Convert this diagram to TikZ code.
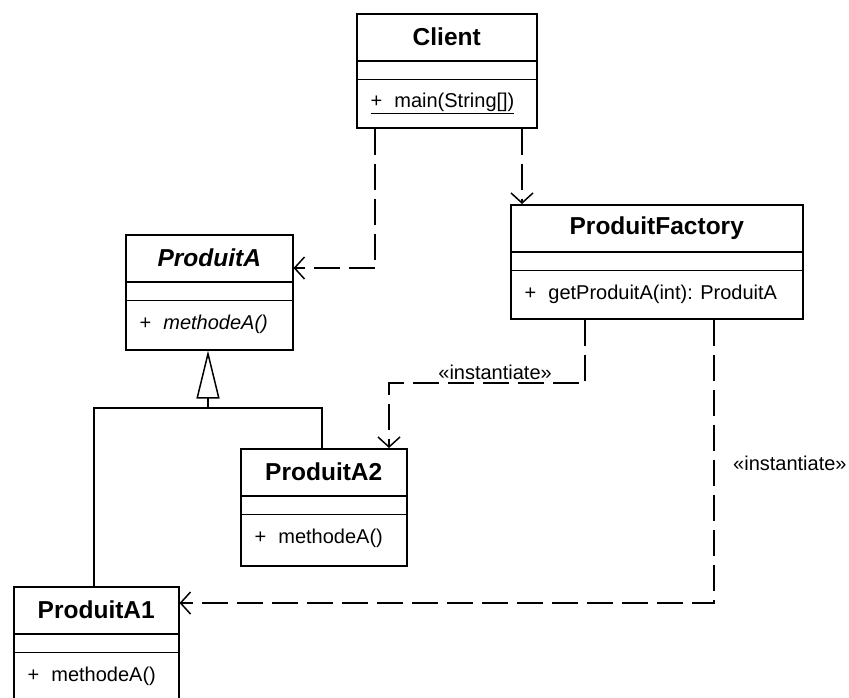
\documentclass[tikz,border=0pt]{standalone}
\usepackage{fontspec}
\setmainfont{Liberation Sans}
\usetikzlibrary{arrows.meta,calc}
\tikzset{
  classbox/.style={draw=black, line width=1.5pt, inner sep=0pt, fill=white},
  divider/.style={draw=black, line width=1.5pt},
  titletext/.style={inner sep=0pt, font=\fontsize{24.5}{28}\selectfont\bfseries},
  methodtext/.style={inner sep=0pt, anchor=west, font=\fontsize{20}{24}\selectfont},
  labeltext/.style={inner sep=0pt, font=\fontsize{20}{24}\selectfont},
  dep/.style={draw=black, line width=1.5pt, dash pattern=on 26pt off 9pt,
    -{Straight Barb[length=10pt,width=22pt]}},
  gen/.style={draw=black, line width=1.5pt},
}
\newcommand{\UMLclass}[7]{%
  \node[classbox, minimum width=#4pt, minimum height=#5pt, anchor=north west] (#1) at (#2,#3) {};
  \draw[divider] ($(#1.north west)+(0,48)$) -- ($(#1.north east)+(0,48)$);
  \draw[divider] ($(#1.north west)+(0,66.5)$) -- ($(#1.north east)+(0,66.5)$);
  \node[titletext] (#1-t) at ($(#1.north)+(0,24)$) {#6};
  \node[methodtext] (#1-m) at ($(#1.north west)+(14.5,90.5)$) {#7};
}
\begin{document}
\begin{tikzpicture}[x=1pt,y=-1pt]
\useasboundingbox[fill=white] (0,0) rectangle (849,697);

\UMLclass{client}{356}{13}{180}{114}{Client}{\underline{+\hspace{12pt}main(String[])}}
\UMLclass{pa}{125}{234}{167}{115}{\itshape ProduitA}{+\hspace{12pt}\textit{methodeA()}}
\UMLclass{pf}{510}{204}{292}{114}{ProduitFactory}{+\hspace{12pt}getProduitA(int): ProduitA}
\UMLclass{pa2}{240}{448}{166}{117}{ProduitA2}{+\hspace{12pt}methodeA()}
\UMLclass{pa1}{13}{586}{165}{130}{ProduitA1}{+\hspace{12pt}methodeA()}

% generalization
\coordinate (g) at (208,408);
\coordinate (gl) at (94,408);
\coordinate (gr) at (322,408);
\draw[gen] (pa1.north -| gl) -- (gl) -- (gr) -- (pa2.north -| gr);
\draw[gen, -{Triangle[open,length=48pt,width=23pt]}] (g) -- (pa.south -| g);

% dependencies
\coordinate (b1) at (375,268);
\draw[dep] (client.south -| b1) -- (b1) -- (pa.east |- b1);

\coordinate (b2) at (522,100);
\draw[dep] (client.south -| b2) -- (pf.north -| b2);

\coordinate (b3a) at (585,383);
\coordinate (b3b) at (389,383);
\draw[dep] (pf.south -| b3a) -- (b3a) -- (b3b) -- (pa2.north -| b3b);
\node[labeltext, anchor=east] (l1) at (552,372) {«instantiate»};

\coordinate (b4) at (714,603);
\draw[dep] (pf.south -| b4) -- (b4) -- (pa1.east |- b4);
\node[labeltext, anchor=west] (l2) at (733,463) {«instantiate»};
\end{tikzpicture}
\end{document}
